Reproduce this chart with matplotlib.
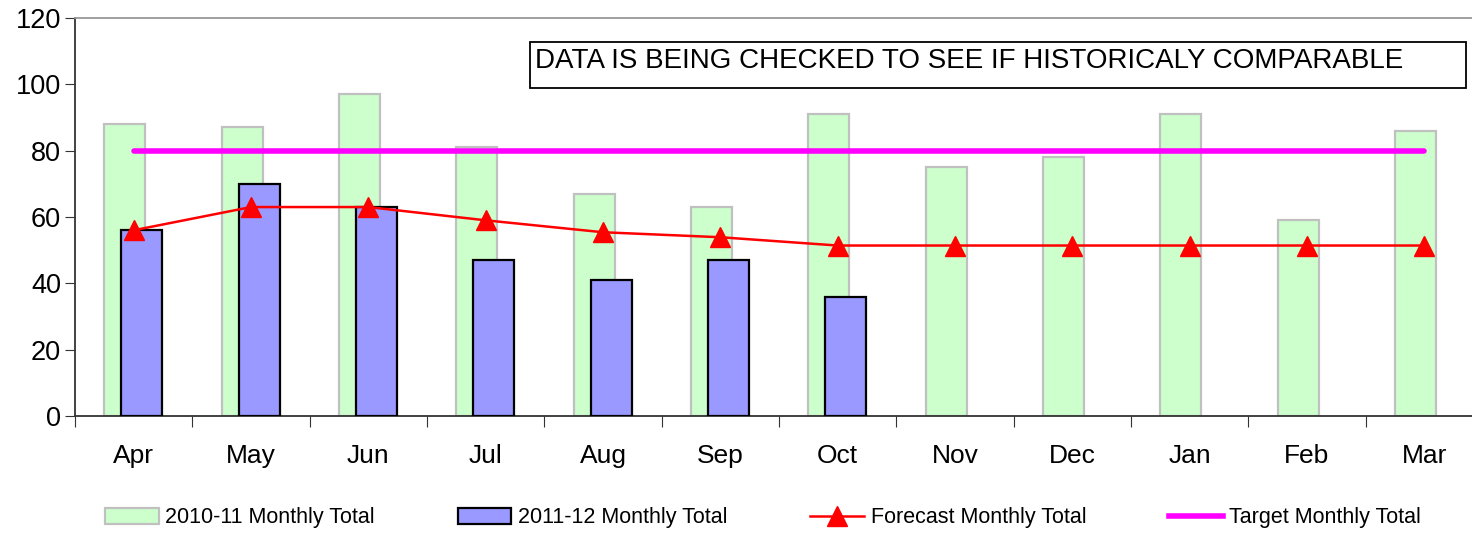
import numpy as np
import matplotlib
matplotlib.use("Agg")
import matplotlib.pyplot as plt
from matplotlib.patches import Patch, Rectangle
from matplotlib.lines import Line2D

plt.rcParams["font.family"] = ["Liberation Sans", "DejaVu Sans"]

# Dados
months = ["Apr", "May", "Jun", "Jul", "Aug", "Sep", "Oct", "Nov", "Dec", "Jan", "Feb", "Mar"]
total_2010_11 = [88, 87, 97, 81, 67, 63, 91, 75, 78, 91, 59, 86]
total_2011_12 = [56, 70, 63, 47, 41, 47, 36]
forecast = [56, 63, 63, 59, 55.4, 53.9, 51.4, 51.4, 51.4, 51.4, 51.4, 51.4]
target = [80] * 12

x = np.arange(len(months))
W, H = 1472, 533

fig = plt.figure(figsize=(14.72, 5.33), dpi=100)
ax = fig.add_axes([75 / W, 1 - 416 / H, 1408 / W, 398 / H])

w = 0.35
ax.bar(x - 0.075, total_2010_11, width=w, color="#CCFFCC", edgecolor="#C0C0C0",
       linewidth=1.6, zorder=2)
ax.bar(x[:len(total_2011_12)] + 0.07, total_2011_12, width=w, color="#9999FF",
       edgecolor="black", linewidth=1.6, zorder=3)
ax.plot(x, target, color="#FF00FF", linewidth=4, solid_capstyle="round", zorder=4)
ax.plot(x, forecast, color="red", linewidth=1.8, marker="^", markersize=15, zorder=5)

ax.set_xlim(-0.5, 11.5)
ax.set_ylim(0, 120)
ax.set_yticks(range(0, 121, 20))
ax.tick_params(axis="y", labelsize=19.5, length=7, direction="out", color="#333333", pad=3)

# ticks nas divisões, rótulos no centro
ax.set_xticks(np.arange(-0.5, 12, 1))
ax.set_xticklabels([])
ax.set_xticks(x, minor=True)
ax.set_xticklabels(months, minor=True)
ax.tick_params(axis="x", which="major", length=8, direction="out", color="#333333")
ax.tick_params(axis="x", which="minor", length=0, labelsize=19, pad=20)

for s in ["left", "bottom"]:
    ax.spines[s].set_color("#333333")
    ax.spines[s].set_linewidth(1.3)
ax.spines["top"].set_color("#999999")
ax.spines["top"].set_linewidth(1.3)
ax.spines["right"].set_visible(False)

# caixa de aviso
fig.patches.append(Rectangle((530 / W, 1 - 88 / H), 936 / W, 46 / H, transform=fig.transFigure,
                             facecolor="white", edgecolor="black", linewidth=1.3, zorder=6))
fig.text(535 / W, 1 - 61 / H, "DATA IS BEING CHECKED TO SEE IF HISTORICALY COMPARABLE",
         fontsize=20, va="center", ha="left", zorder=7)

handles = [
    Patch(facecolor="#CCFFCC", edgecolor="#C0C0C0", linewidth=1.6, label="2010-11 Monthly Total"),
    Patch(facecolor="#9999FF", edgecolor="black", linewidth=1.6, label="2011-12 Monthly Total"),
    Line2D([], [], color="red", linewidth=1.8, marker="^", markersize=15, label="Forecast Monthly Total"),
    Line2D([], [], color="#FF00FF", linewidth=4, label="Target Monthly Total"),
]
fig.legend(handles=handles, loc="center", bbox_to_anchor=(763 / W, 1 - 518 / H), ncol=4,
           frameon=False, fontsize=15.5, handlelength=2.5, handletextpad=0.3,
           columnspacing=3.85)

fig.savefig("out.png", dpi=100)
